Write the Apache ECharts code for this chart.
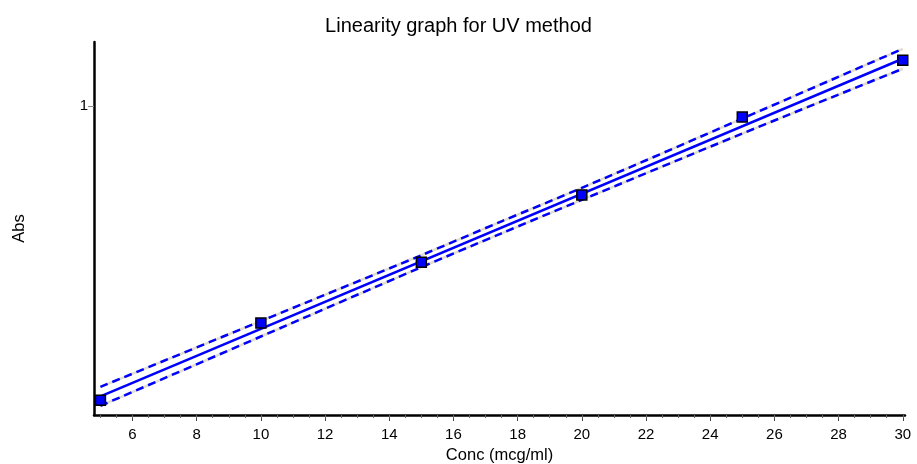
<!DOCTYPE html>
<html>
<head>
<meta charset="utf-8">
<script src="https://cdn.jsdelivr.net/npm/echarts@6/dist/echarts.min.js"></script>
<style>
  html, body { margin: 0; padding: 0; background: #fff; }
  #chart { width: 917px; height: 464px; }
</style>
</head>
<body>
<div id="chart"></div>
<script>
// measured points
var conc = [5, 10, 15, 20, 25, 30];
var abs = [0.410, 0.565, 0.687, 0.822, 0.978, 1.092];

// regression line and confidence band
var fitX = [5, 10, 15, 17.5, 20, 25, 30];
var fitY = [0.418, 0.5535, 0.689, 0.7565, 0.824, 0.960, 1.095];
var upperY = [0.437, 0.569, 0.701, 0.769, 0.836, 0.975, 1.115];
var lowerY = [0.399, 0.538, 0.677, 0.745, 0.812, 0.945, 1.075];

var xTicks = [6, 8, 10, 12, 14, 16, 18, 20, 22, 24, 26, 28, 30];
var yTicks = [1];

function pairs(xs, ys) {
  var out = [];
  for (var i = 0; i < xs.length; i++) {
    out.push([xs[i], ys[i]]);
  }
  return out;
}

var minorTicks = [];
for (var t = 5; t <= 30; t += 0.5) {
  minorTicks.push(t);
}

var font = 'Liberation Sans';
var bandGap = '#e2ddcf';

var myChart = echarts.init(document.getElementById('chart'));
var option = {
  animation: false,
  textStyle: { fontFamily: font },
  title: {
    text: 'Linearity graph for UV method',
    left: 'center',
    top: 11,
    textStyle: { fontFamily: font, fontSize: 20, fontWeight: 'normal', color: '#000' }
  },
  grid: { left: 94, right: 12, top: 42, bottom: 49, outerBoundsMode: 'none', containLabel: false },
  xAxis: [
    {
      type: 'value',
      min: 4.8,
      max: 30.07,
      name: 'Conc (mcg/ml)',
      nameLocation: 'middle',
      nameGap: 31,
      nameTextStyle: { fontFamily: font, fontSize: 16.5, color: '#000' },
      axisLine: { show: true, onZero: false, lineStyle: { color: '#000', width: 2.5 } },
      axisTick: { show: true, length: 6, customValues: xTicks, lineStyle: { color: '#444' } },
      axisLabel: { customValues: xTicks, fontFamily: font, fontSize: 15, color: '#000', margin: 12 },
      splitLine: { show: false }
    },
    {
      type: 'value',
      min: 4.8,
      max: 30.07,
      position: 'bottom',
      axisLine: { show: false },
      axisTick: { show: true, length: 3, customValues: minorTicks, lineStyle: { color: '#666' } },
      axisLabel: { show: false },
      splitLine: { show: false }
    }
  ],
  yAxis: {
    type: 'value',
    min: 0.3806,
    max: 1.1286,
    name: 'Abs',
    nameLocation: 'middle',
    nameGap: 66,
    nameTextStyle: { fontFamily: font, fontSize: 16.5, color: '#000' },
    axisLine: { show: true, onZero: false, lineStyle: { color: '#000', width: 2.5 } },
    axisTick: { show: true, length: 6, customValues: yTicks, lineStyle: { color: '#888' } },
    axisLabel: { customValues: yTicks, fontFamily: font, fontSize: 15, color: '#000', margin: 6 },
    splitLine: { show: false }
  },
  series: [
    {
      type: 'line',
      data: pairs(fitX, upperY),
      symbol: 'none',
      smooth: 0.3,
      lineStyle: { color: bandGap, width: 2.5 },
      z: 2
    },
    {
      type: 'line',
      data: pairs(fitX, upperY),
      symbol: 'none',
      smooth: 0.3,
      lineStyle: { color: '#0000ff', width: 2.5, type: [8, 5] },
      z: 3
    },
    {
      type: 'line',
      data: pairs(fitX, lowerY),
      symbol: 'none',
      smooth: 0.3,
      lineStyle: { color: bandGap, width: 2.5 },
      z: 2
    },
    {
      type: 'line',
      data: pairs(fitX, lowerY),
      symbol: 'none',
      smooth: 0.3,
      lineStyle: { color: '#0000ff', width: 2.5, type: [8, 5] },
      z: 3
    },
    {
      type: 'line',
      data: pairs([fitX[0], fitX[fitX.length - 1]], [fitY[0], fitY[fitY.length - 1]]),
      symbol: 'none',
      lineStyle: { color: '#0000ff', width: 2.5 },
      z: 4
    },
    {
      type: 'scatter',
      data: pairs(conc, abs),
      symbol: 'rect',
      symbolSize: 10,
      itemStyle: { color: '#0000ff', borderColor: '#000', borderWidth: 1.5, opacity: 1 },
      z: 5
    }
  ]
};
option && myChart.setOption(option);
</script>
</body>
</html>
